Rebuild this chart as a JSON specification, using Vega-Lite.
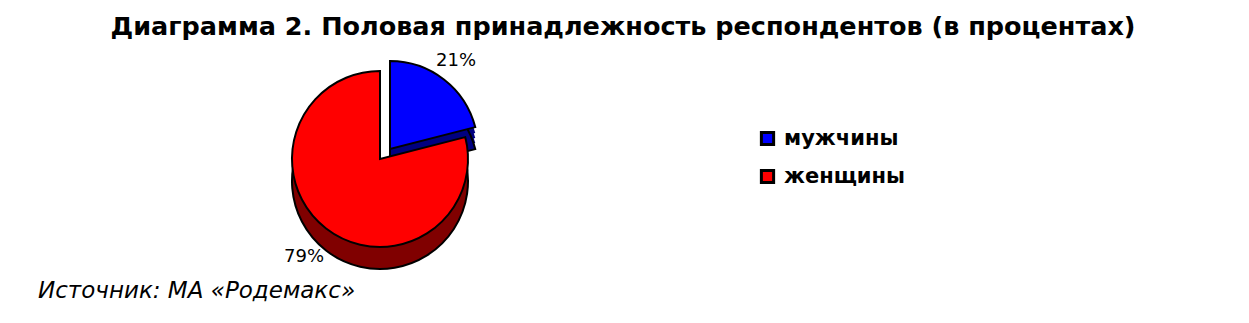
{
  "$schema": "https://vega.github.io/schema/vega-lite/v6.json",
  "background": "white",
  "padding": {"left": 0, "top": 14, "right": 0, "bottom": 0},
  "title": {
    "text": "Диаграмма 2. Половая принадлежность респондентов (в процентах)",
    "anchor": "start",
    "align": "center",
    "dx": 623,
    "font": "DejaVu Sans",
    "fontSize": 25.5,
    "fontWeight": "bold",
    "color": "#000000",
    "offset": 9
  },
  "config": {
    "view": {"stroke": null},
    "legend": {
      "orient": "none",
      "legendX": 757,
      "legendY": 79,
      "title": null,
      "padding": 0,
      "symbolType": "square",
      "symbolSize": 150,
      "symbolStrokeColor": "#000000",
      "symbolStrokeWidth": 3,
      "labelFont": "DejaVu Sans",
      "labelFontSize": 21,
      "labelFontWeight": "bold",
      "labelColor": "#000000",
      "labelOffset": 6,
      "rowPadding": 13
    }
  },
  "vconcat": [
    {
      "width": 760,
      "height": 220,
      "title": {
        "text": "Источник: МА «Родемакс»",
        "orient": "bottom",
        "anchor": "start",
        "align": "left",
        "dx": 38,
        "font": "DejaVu Sans",
        "fontSize": 23,
        "fontStyle": "italic",
        "fontWeight": "normal",
        "color": "#000000",
        "offset": 7
      },
      "data": {
        "values": [
          {"gender": "мужчины", "share": 0.21},
          {"gender": "женщины", "share": 0.79}
        ]
      },
      "encoding": {
        "theta": {"field": "share", "type": "quantitative", "stack": true},
        "order": {"field": "share", "sort": "ascending"}
      },
      "layer": [
        {
          "mark": {"type": "arc", "radius": 88,
            "fill": {"expr": "datum.gender === 'мужчины' ? '#000080' : '#800000'"},
            "xOffset": {"expr": "datum.gender === 'мужчины' ? 10 : 0"},
            "yOffset": {"expr": "(datum.gender === 'мужчины' ? -10 : 0) + 6"}},
          "encoding": {"detail": {"field": "gender", "type": "nominal"}}
        },
        {
          "mark": {"type": "arc", "radius": 88,
            "fill": {"expr": "datum.gender === 'мужчины' ? '#000080' : '#800000'"},
            "xOffset": {"expr": "datum.gender === 'мужчины' ? 10 : 0"},
            "yOffset": {"expr": "(datum.gender === 'мужчины' ? -10 : 0) + 11"}},
          "encoding": {"detail": {"field": "gender", "type": "nominal"}}
        },
        {
          "mark": {"type": "arc", "radius": 88,
            "fill": {"expr": "datum.gender === 'мужчины' ? '#000080' : '#800000'"},
            "xOffset": {"expr": "datum.gender === 'мужчины' ? 10 : 0"},
            "yOffset": {"expr": "(datum.gender === 'мужчины' ? -10 : 0) + 16"}},
          "encoding": {"detail": {"field": "gender", "type": "nominal"}}
        },
        {
          "mark": {"type": "arc", "radius": 88, "stroke": "#000000", "strokeWidth": 2,
            "fill": {"expr": "datum.gender === 'мужчины' ? '#000080' : '#800000'"},
            "xOffset": {"expr": "datum.gender === 'мужчины' ? 10 : 0"},
            "yOffset": {"expr": "(datum.gender === 'мужчины' ? -10 : 0) + 22"}},
          "encoding": {"detail": {"field": "gender", "type": "nominal"}}
        },
        {
          "mark": {"type": "arc", "radius": 88, "stroke": "#000000", "strokeWidth": 2,
            "xOffset": {"expr": "datum.gender === 'мужчины' ? 10 : 0"},
            "yOffset": {"expr": "datum.gender === 'мужчины' ? -10 : 0"}},
          "encoding": {"color": {"field": "gender", "type": "nominal", "sort": ["мужчины", "женщины"], "scale": {"domain": ["мужчины", "женщины"], "range": ["#0000FF", "#FF0000"]}}}
        },
        {
          "mark": {"type": "text", "radius": 124, "font": "DejaVu Sans", "fontSize": 18, "color": "#000000"},
          "encoding": {
            "text": {"field": "share", "type": "quantitative", "format": ".0%"},
            "detail": {"field": "gender", "type": "nominal"}
          }
        }
      ]
    }
  ]
}
